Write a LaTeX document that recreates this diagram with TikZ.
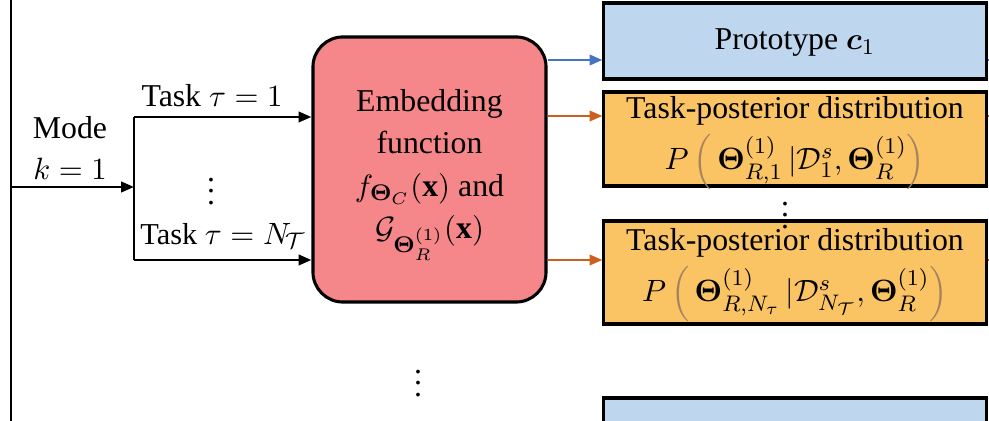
\documentclass[tikz,border=0pt]{standalone}
\usepackage{fontspec}
\setmainfont{Liberation Serif}
\usepackage{amsmath}
\usepackage{bm}
\usetikzlibrary{arrows.meta,calc}
\definecolor{pinkfill}{RGB}{245,135,138}
\definecolor{bluefill}{RGB}{190,214,238}
\definecolor{orangefill}{RGB}{250,196,100}
\definecolor{bluearrow}{RGB}{70,115,195}
\definecolor{orangearrow}{RGB}{205,95,30}
\definecolor{parcol}{RGB}{165,130,95}
\newcommand{\pbrack}[1]{{\color{parcol}\Big#1}}
\begin{document}
\begin{tikzpicture}[x=0.0125cm,y=-0.0125cm,
  txt/.style={font=\fontsize{11.3}{14.6}\selectfont, inner sep=0pt, align=center},
  outbox/.style={draw=black, line width=1.1pt, minimum width=4.775cm, inner sep=0pt},
  arr/.style={line width=0.9pt, -{Triangle[length=0.16cm,width=0.13cm]}},
  plain/.style={line width=0.9pt}
]
\clip (0,0) rectangle (989,421);
% embedding box
\node[draw=black, line width=1.1pt, fill=pinkfill, rounded corners=0.375cm,
      minimum width=2.9125cm, minimum height=3.3125cm, inner sep=0pt] (emb) at (429.5,169.5) {};
\node[txt, font=\fontsize{11.3}{15}\selectfont] (embtxt) at (429.5,175)
  {Embedding\\ function\\ $f_{\bm{\Theta}_C}(\mathbf{x})$ and\\ $\mathcal{G}_{\bm{\Theta}_R^{(1)}}(\mathbf{x})$};
% output boxes
\node[outbox, fill=bluefill, minimum height=0.95cm] (proto) at (795,41) {};
\node[txt] (prototxt) at (795,43) {Prototype $\bm{c}_1$};
\node[outbox, fill=orangefill, minimum height=1.175cm] (post1) at (795,139) {};
\node[txt] (post1a) at (795,111) {Task-posterior distribution};
\node[txt] (post1b) at (795,162) {$P\,\pbrack(\,\bm{\Theta}^{(1)}_{R,1}\,|\mathcal{D}^{s}_{1},\bm{\Theta}^{(1)}_{R}\pbrack)$};
\node[outbox, fill=orangefill, minimum height=1.2875cm] (post2) at (795,272.5) {};
\node[txt] (post2a) at (795,243) {Task-posterior distribution};
\node[txt] (post2b) at (795,294) {$P\,\pbrack(\,\bm{\Theta}^{(1)}_{R,N_\tau}\,|\mathcal{D}^{s}_{N_{\mathcal{T}}},\bm{\Theta}^{(1)}_{R}\pbrack)$};
\node[outbox, fill=bluefill, minimum height=0.95cm] (proto2) at (795,436) {};
% labels
\node[txt] (mode) at (70,148) {Mode\\ $k=1$};
\node[txt] (t1) at (212,96) {Task $\tau=1$};
\node[txt, font=\fontsize{10.8}{14}\selectfont] (tn) at (223,236) {Task $\tau=N_{\mkern-2mu\mathcal{T}}$};
\node[txt] (d1) at (211,183) {$\vdots$};
\node[txt] (d2) at (418,375) {$\vdots$};
\node[txt] (d3) at (785,207) {$\vdots$};
% coordinates
\coordinate (ltop) at (11,0);
\coordinate (lbot) at (11,421);
\coordinate (lmid) at (11,187);
\coordinate (split) at (134,187);
\coordinate (stop) at (134,117);
\coordinate (sbot) at (134,260);
\coordinate (ya) at (0,60);
\coordinate (yb) at (0,116);
\coordinate (yc) at (0,260);
\coordinate (edgea) at (989,60);
\coordinate (edgeb) at (989,116);
\coordinate (edgec) at (989,260);
% connectors
\draw[plain] (ltop) -- (lbot);
\draw[arr] (lmid) -- (split);
\draw[plain] (stop) -- (sbot);
\draw[arr] (stop) -- (emb.west |- stop);
\draw[arr] (sbot) -- (emb.west |- sbot);
\draw[arr, bluearrow] (emb.east |- ya) -- (proto.west |- ya);
\draw[arr, orangearrow] (emb.east |- yb) -- (post1.west |- yb);
\draw[arr, orangearrow] (emb.east |- yc) -- (post2.west |- yc);
\draw[line width=0.6pt, bluearrow] (proto.east |- ya) -- (edgea);
\draw[line width=0.6pt, orangearrow] (post1.east |- yb) -- (edgeb);
\draw[line width=0.6pt, orangearrow] (post2.east |- yc) -- (edgec);
\end{tikzpicture}
\end{document}
